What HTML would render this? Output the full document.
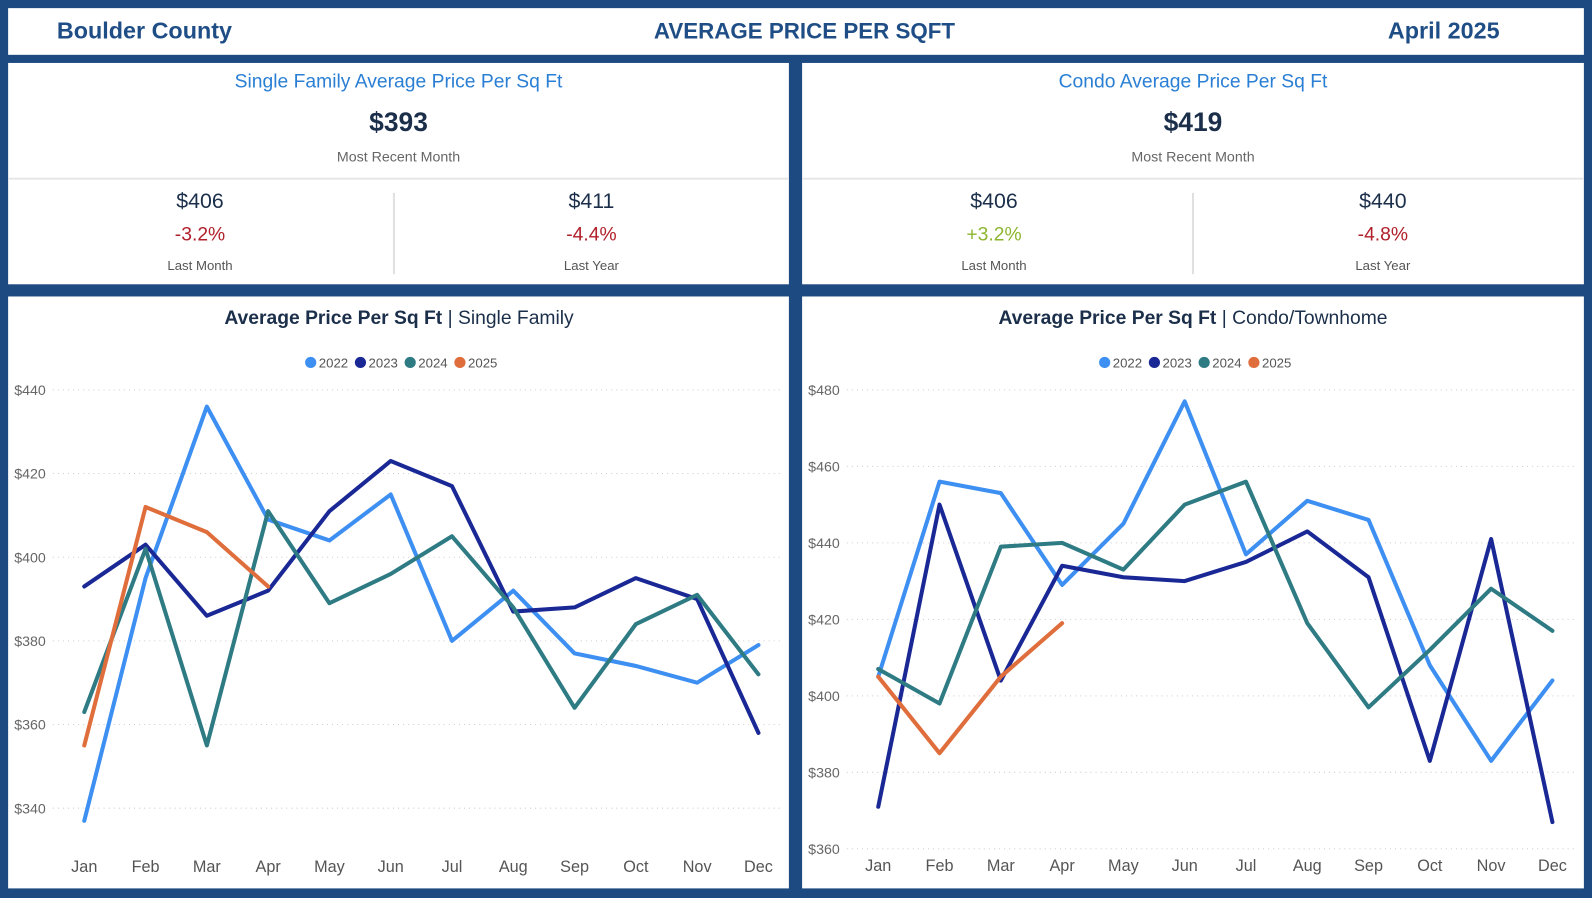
<!DOCTYPE html>
<html><head><meta charset="utf-8"><style>
html,body{margin:0;width:1592px;height:897px;background:#1d4a80;overflow:hidden}
#wrap{position:absolute;left:0;top:0;width:1568px;height:884px;transform:scale(1.01531);transform-origin:0 0;font-family:"Liberation Sans",sans-serif}
.box{position:absolute;background:#fff}
.t{position:absolute;white-space:nowrap}
.c{text-align:center}
</style></head><body>
<div id="wrap">
<div class="box" style="left:8px;top:8px;width:1552px;height:46px">
<div class="t" style="left:48px;top:9px;font-size:23px;font-weight:bold;color:#1f4e86">Boulder County</div>
<div class="t" style="left:636px;top:10px;font-size:22px;font-weight:bold;color:#1f4e86">AVERAGE PRICE PER SQFT</div>
<div class="t" style="left:1359px;top:9px;font-size:23px;font-weight:bold;color:#1f4e86">April 2025</div>
</div>

<div class="box" style="left:8px;top:62px;width:769px;height:218px">
<div class="t c" style="left:0;width:769px;top:8px;font-size:19px;color:#2a7fd4">Single Family Average Price Per Sq Ft</div>
<div class="t c" style="left:0;width:769px;top:43px;font-size:26px;font-weight:bold;color:#1b2f4a">$393</div>
<div class="t c" style="left:0;width:769px;top:84px;font-size:14px;color:#666">Most Recent Month</div>
<div style="position:absolute;left:0;top:113px;width:769px;height:2px;background:#e6e6e6"></div>
<div style="position:absolute;left:379px;top:128px;width:2px;height:80px;background:#e0e0e0"></div>
<div class="t c" style="left:0;width:378px;top:125px;font-size:21px;color:#1b2f4a">$406</div>
<div class="t c" style="left:0;width:378px;top:159px;font-size:19px;color:#b0202a">-3.2%</div>
<div class="t c" style="left:0;width:378px;top:192px;font-size:13px;color:#555">Last Month</div>
<div class="t c" style="left:382px;width:385px;top:125px;font-size:21px;color:#1b2f4a">$411</div>
<div class="t c" style="left:382px;width:385px;top:159px;font-size:19px;color:#b0202a">-4.4%</div>
<div class="t c" style="left:382px;width:385px;top:192px;font-size:13px;color:#555">Last Year</div>
</div>

<div class="box" style="left:790px;top:62px;width:770px;height:218px">
<div class="t c" style="left:0;width:770px;top:8px;font-size:19px;color:#2a7fd4">Condo Average Price Per Sq Ft</div>
<div class="t c" style="left:0;width:770px;top:43px;font-size:26px;font-weight:bold;color:#1b2f4a">$419</div>
<div class="t c" style="left:0;width:770px;top:84px;font-size:14px;color:#666">Most Recent Month</div>
<div style="position:absolute;left:0;top:113px;width:770px;height:2px;background:#e6e6e6"></div>
<div style="position:absolute;left:384px;top:128px;width:2px;height:80px;background:#e0e0e0"></div>
<div class="t c" style="left:0;width:378px;top:125px;font-size:21px;color:#1b2f4a">$406</div>
<div class="t c" style="left:0;width:378px;top:159px;font-size:19px;color:#8db630">+3.2%</div>
<div class="t c" style="left:0;width:378px;top:192px;font-size:13px;color:#555">Last Month</div>
<div class="t c" style="left:386px;width:372px;top:125px;font-size:21px;color:#1b2f4a">$440</div>
<div class="t c" style="left:386px;width:372px;top:159px;font-size:19px;color:#b0202a">-4.8%</div>
<div class="t c" style="left:386px;width:372px;top:192px;font-size:13px;color:#555">Last Year</div>
</div>

<div class="box" style="left:8px;top:292px;width:769px;height:583px"></div>
<div class="box" style="left:790px;top:292px;width:770px;height:583px"></div>
<svg id="svg" width="1568" height="884" style="position:absolute;left:0;top:0"></svg>
</div>
<script>
const months=["Jan","Feb","Mar","Apr","May","Jun","Jul","Aug","Sep","Oct","Nov","Dec"];
const years=["2022","2023","2024","2025"];
const colors=["#3d8ff2","#1a2896","#2e7b84","#df6e3c"];
const sf2022=[337,395,436,409,404,415,380,392,377,374,370,379];
const sf2023=[393,403,386,392,411,423,417,387,388,395,390,358];
const sf2024=[363,402,355,411,389,396,405,388,364,384,391,372];
const sf2025=[355,412,406,393];
const sfTicks=[340,360,380,400,420,440];
const co2022=[405,456,453,429,445,477,437,451,446,408,383,404];
const co2023=[371,450,404,434,431,430,435,443,431,383,441,367];
const co2024=[407,398,439,440,433,450,456,419,397,412,428,417];
const co2025=[405,385,405,419];
const coTicks=[360,380,400,420,440,460,480];

const NS="http://www.w3.org/2000/svg";
const svg=document.getElementById('svg');
function el(tag,attrs,text){const e=document.createElementNS(NS,tag);for(const k in attrs)e.setAttribute(k,attrs[k]);if(text!==undefined)e.textContent=text;svg.appendChild(e);return e;}

function chart(cfg){
  const {x0,x1,yTop,yBot,vTop,vBot,ticks,series,prefix,cx,boldTitle,subTitle,tickX,plotRight}=cfg;
  const xs=i=>x0+(x1-x0)*i/11;
  const ys=v=>yTop+(vTop-v)*(yBot-yTop)/(vTop-vBot);
  const t=el('text',{x:cx,y:319,'text-anchor':'middle','font-size':19,fill:'#1b2f4a'});
  
  
  const b=document.createElementNS(NS,'tspan');b.setAttribute('font-weight','bold');b.textContent=boldTitle;t.appendChild(b);
  const s=document.createElementNS(NS,'tspan');s.textContent=' | '+subTitle;t.appendChild(s);
  let lx=cx-93;
  years.forEach((y,i)=>{
    const c=el('circle',{cx:lx+6,cy:357,r:5.5,fill:colors[i]});
    
    
    const tx=el('text',{x:lx+14,y:362,'font-size':13,fill:'#555'},y);
    
    
    lx+=49;
  });
  ticks.forEach(v=>{
    const g=el('line',{x1:tickX+38,x2:plotRight,y1:ys(v),y2:ys(v),stroke:'#ccc','stroke-dasharray':'1,4'});
    
    
    const tl=el('text',{x:tickX,y:ys(v)+5,'font-size':14,fill:'#666'},'$'+v);
    
    
  });
  months.forEach((m,i)=>{
    const tl=el('text',{x:xs(i),y:cfg.labelY,'text-anchor':'middle','font-size':16,fill:'#555'},m);
    
    
  });
  series.forEach((arr,k)=>{
    const p=el('polyline',{points:arr.map((v,i)=>xs(i)+','+ys(v)).join(' '),fill:'none',stroke:colors[k],'stroke-width':4,'stroke-linejoin':'round','stroke-linecap':'round'});
    
    
  });
}
chart({x0:83,x1:747,yTop:384,yBot:796,vTop:440,vBot:340,ticks:sfTicks,series:[sf2022,sf2023,sf2024,sf2025],prefix:'sf',cx:393,boldTitle:'Average Price Per Sq Ft',subTitle:'Single Family',tickX:14,plotRight:770,labelY:859});
chart({x0:865,x1:1529,yTop:384,yBot:836,vTop:480,vBot:360,ticks:coTicks,series:[co2022,co2023,co2024,co2025],prefix:'condo',cx:1175,boldTitle:'Average Price Per Sq Ft',subTitle:'Condo/Townhome',tickX:796,plotRight:1552,labelY:858});
</script>
</body></html>
